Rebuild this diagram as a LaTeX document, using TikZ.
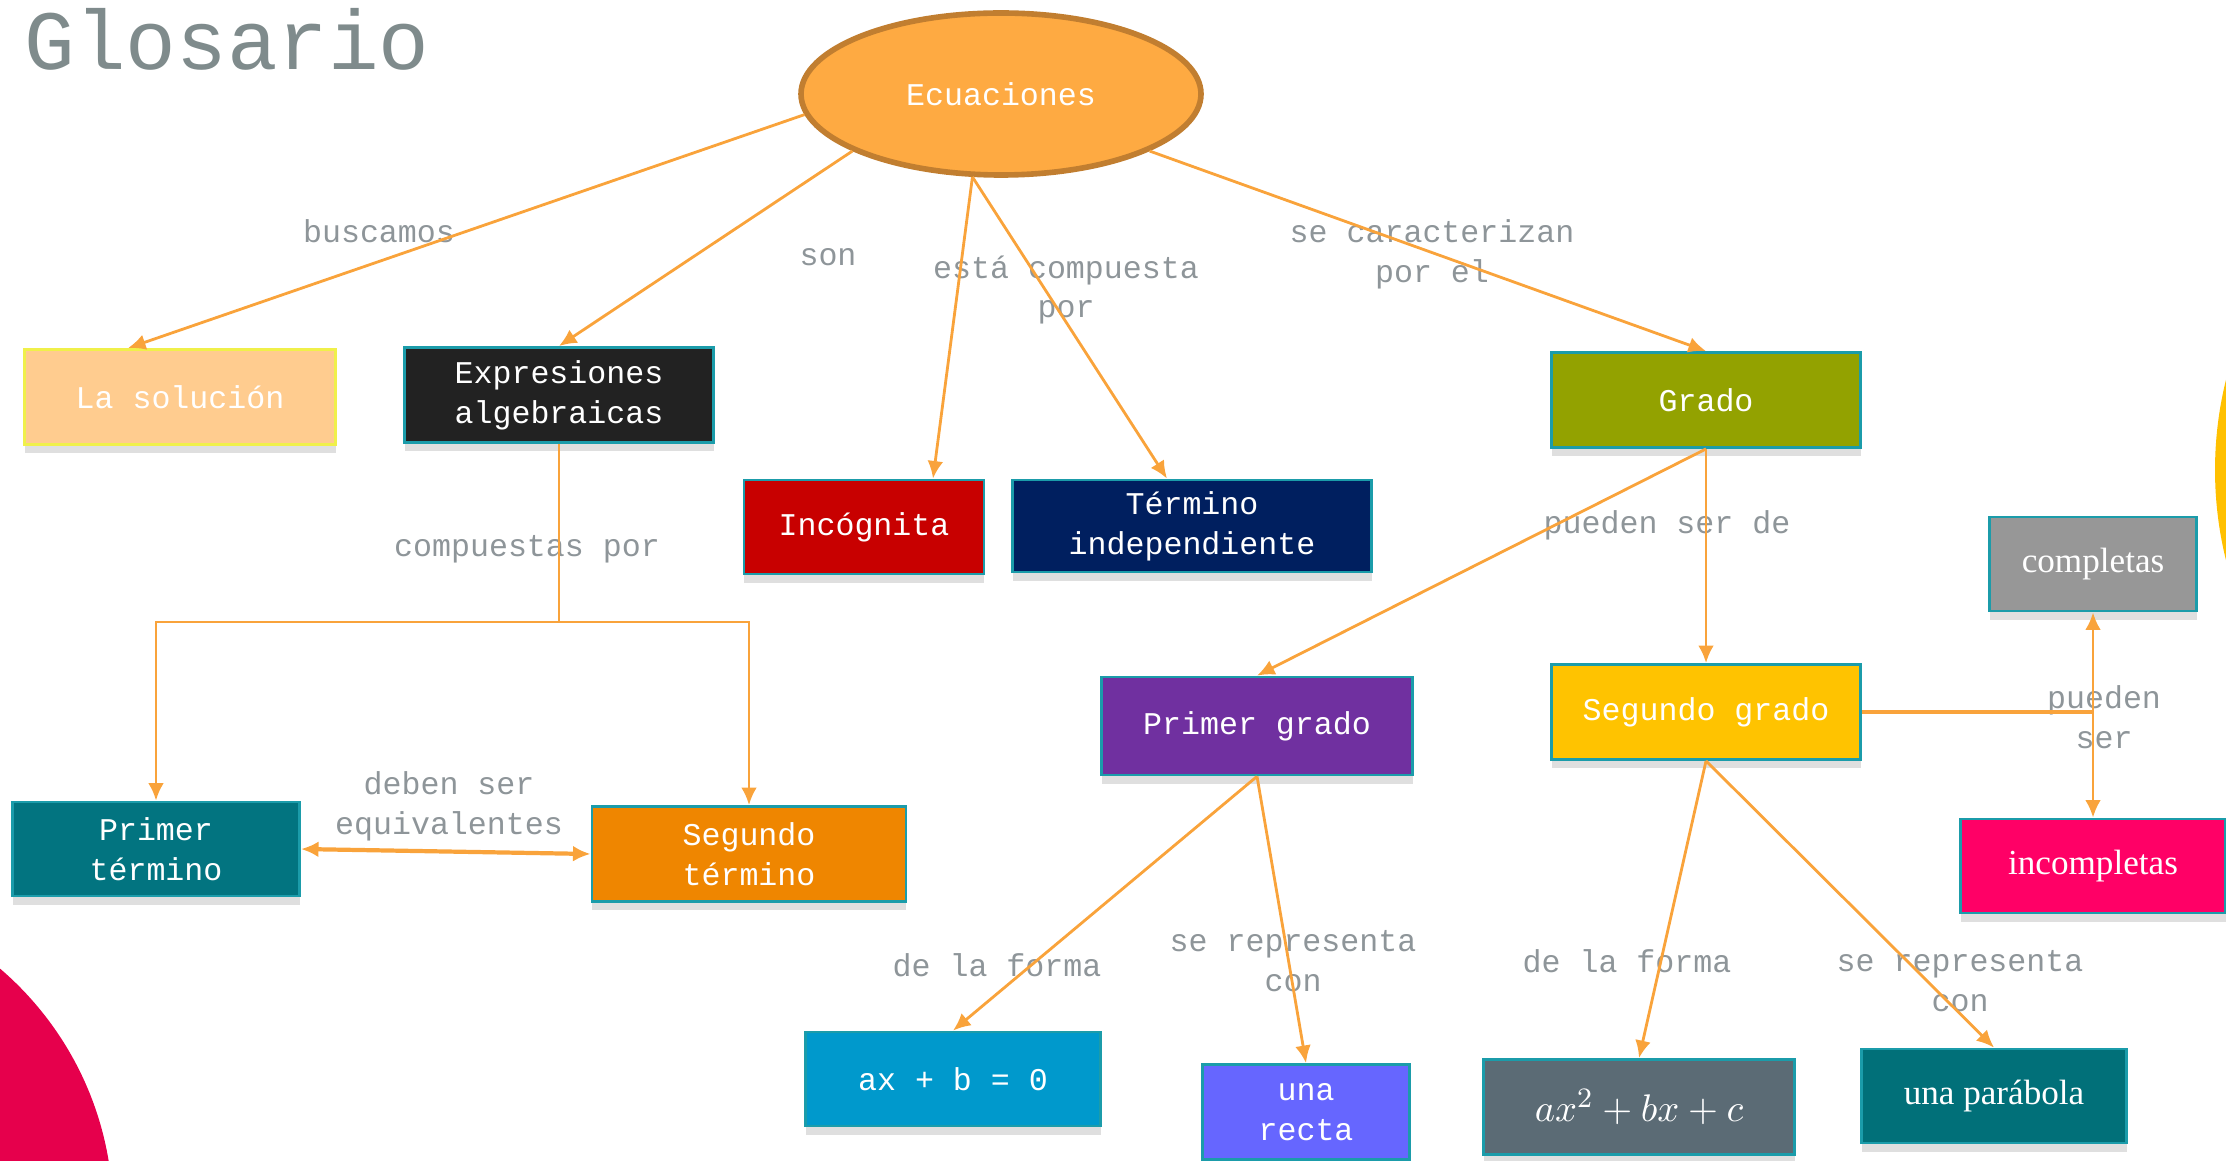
\documentclass[tikz,border=0pt]{standalone}
\usepackage{fontspec}
\setmonofont{Liberation Mono}
\newfontfamily\serifcaja{Liberation Serif}
\usetikzlibrary{shapes.geometric,arrows.meta,shadows}

\definecolor{naranja}{HTML}{F9A33B}
\definecolor{grisetiq}{HTML}{8E9599}
\definecolor{gristitulo}{HTML}{7F8B8C}
\definecolor{bordeteal}{HTML}{1B9CAA}
\definecolor{ecufill}{HTML}{FEAA42}
\definecolor{ecuborde}{HTML}{C17E30}
\definecolor{solfill}{HTML}{FFCC8F}
\definecolor{solborde}{HTML}{F0F04A}
\definecolor{exprfill}{HTML}{222222}
\definecolor{incfill}{HTML}{C80000}
\definecolor{tindfill}{HTML}{001F5F}
\definecolor{gradofill}{HTML}{93A200}
\definecolor{complfill}{HTML}{979797}
\definecolor{pgradofill}{HTML}{7030A0}
\definecolor{sgradofill}{HTML}{FFC300}
\definecolor{incomplfill}{HTML}{FF0066}
\definecolor{ptermfill}{HTML}{027480}
\definecolor{stermfill}{HTML}{EF8600}
\definecolor{linfill}{HTML}{0099CC}
\definecolor{rectafill}{HTML}{6666FF}
\definecolor{cuadfill}{HTML}{5B6B75}
\definecolor{parabfill}{HTML}{017079}
\definecolor{rosa}{HTML}{E6004C}
\definecolor{amarillo}{HTML}{FFC000}

\tikzset{
  caja/.style={rectangle, draw=bordeteal, line width=0.8pt, text=white,
    font=\ttfamily\fontsize{9}{11.3}\selectfont, align=center,
    inner sep=0pt, minimum height=0.95cm,
    drop shadow={shadow xshift=0pt, shadow yshift=-2.5pt, opacity=.25}},
  etiqueta/.style={text=grisetiq, font=\ttfamily\fontsize{9}{11.3}\selectfont,
    align=center, inner sep=0pt},
  flecha/.style={->, draw=naranja, line width=0.8pt},
}

\begin{document}
\begin{tikzpicture}[>={Latex[length=5pt,width=4.5pt]}]
    % Marco
    \useasboundingbox (0,0) rectangle (22.26,-11.61);
    \clip (0,0) rectangle (22.26,-11.61);
    % Circulos de fondo
    \fill[rosa] (-2.10,-12.14) circle (3.23);
    \fill[amarillo] (25.89,-4.70) circle (3.74);
    % Titulo
    \node[anchor=base west, text=gristitulo, inner sep=0pt,
      font=\ttfamily\fontsize{24}{28}\selectfont] (titulo) at (0.24,-0.70) {Glosario};
    % Nodo central
    \node[ellipse, fill=ecufill, draw=ecuborde, line width=1.6pt,
      minimum width=4.0cm, minimum height=1.62cm, text=white,
      font=\ttfamily\fontsize{9}{11.3}\selectfont] (ecu) at (10.01,-0.94) {Ecuaciones};
    % Cajas
    \node[caja, fill=solfill, draw=solborde, minimum width=3.11cm] (sol) at (1.80,-3.97) {La solución};
    \node[caja, fill=exprfill, minimum width=3.09cm] (expr) at (5.59,-3.95) {Expresiones\\algebraicas};
    \node[caja, fill=incfill, minimum width=2.40cm, minimum height=0.94cm] (inc) at (8.64,-5.27) {Incógnita};
    \node[caja, fill=tindfill, minimum width=3.59cm, minimum height=0.92cm] (tind) at (11.92,-5.26) {Término\\independiente};
    \node[caja, fill=gradofill, minimum width=3.09cm] (grado) at (17.06,-4.00) {Grado};
    \node[caja, fill=complfill, minimum width=2.07cm, minimum height=0.94cm,
      font=\serifcaja\fontsize{10}{12}\selectfont] (compl) at (20.93,-5.64) {completas};
    \node[caja, fill=pgradofill, minimum width=3.11cm, minimum height=0.98cm] (pgrado) at (12.57,-7.26) {Primer grado};
    \node[caja, fill=sgradofill, minimum width=3.09cm] (sgrado) at (17.06,-7.12) {Segundo grado};
    \node[caja, fill=incomplfill, minimum width=2.65cm, minimum height=0.94cm,
      font=\serifcaja\fontsize{10}{12}\selectfont] (incompl) at (20.93,-8.66) {incompletas};
    \node[caja, fill=ptermfill, minimum width=2.87cm, minimum height=0.94cm] (pterm) at (1.56,-8.49) {Primer\\término};
    \node[caja, fill=stermfill, minimum width=3.14cm] (sterm) at (7.49,-8.54) {Segundo\\término};
    \node[caja, fill=linfill, minimum width=2.95cm, minimum height=0.94cm] (lin) at (9.53,-10.79) {ax + b = 0};
    \node[caja, fill=rectafill, minimum width=2.07cm] (recta) at (13.06,-11.12) {una\\recta};
    \node[caja, fill=cuadfill, minimum width=3.11cm,
      font=\fontsize{11}{13}\selectfont] (cuad) at (16.39,-11.07) {$ax^2+bx+c$};
    \node[caja, fill=parabfill, minimum width=2.65cm, minimum height=0.94cm,
      font=\serifcaja\fontsize{10}{12}\selectfont] (parab) at (19.94,-10.96) {una parábola};
    % Etiquetas de enlace
    \node[etiqueta] (ebus) at (3.79,-2.31) {buscamos};
    \node[etiqueta] (eson) at (8.28,-2.57) {son};
    \node[etiqueta] (ecomp) at (10.66,-2.90) {está compuesta\\por};
    \node[etiqueta] (ecar) at (14.32,-2.54) {se caracterizan\\por el};
    \node[etiqueta] (ecpor) at (5.27,-5.49) {compuestas por};
    \node[etiqueta] (edeb) at (4.49,-8.06) {deben ser\\equivalentes};
    \node[etiqueta] (epued) at (16.67,-5.25) {pueden ser de};
    \node[etiqueta] (eser) at (21.04,-7.17) {pueden\\ser};
    \node[etiqueta] (eforma1) at (9.97,-9.65) {de la forma};
    \node[etiqueta] (erep1) at (12.93,-9.61) {se representa\\con};
    \node[etiqueta] (eforma2) at (16.27,-9.61) {de la forma};
    \node[etiqueta] (erep2) at (19.60,-9.81) {se representa\\con};
    % Flechas desde Ecuaciones
    \draw[flecha] (ecu.186) -- ([xshift=-0.52cm]sol.north);
    \draw[flecha] (ecu.201) -- (expr.north);
    \draw[flecha] (ecu.251) -- ([xshift=0.69cm]inc.north);
    \draw[flecha] (ecu.251) -- ([xshift=-0.25cm]tind.north);
    \draw[flecha] (ecu.339) -- (grado.north);
    % Expresiones algebraicas
    \coordinate (cexpr) at (5.59,-6.22);
    \draw[flecha] (expr.south) -- (cexpr) -| (pterm.north);
    \draw[flecha] (cexpr) -| (sterm.north);
    \draw[flecha, <->, line width=1.2pt] (pterm.east) -- (sterm.west);
    % Grado
    \draw[flecha] (grado.south) -- (pgrado.north);
    \draw[flecha] (grado.south) -- (sgrado.north);
    \coordinate (csgr) at (20.93,-7.12);
    \draw[naranja, line width=1.2pt] (sgrado.east) -- (csgr);
    \draw[flecha] (csgr) -- (compl.south);
    \draw[flecha] (csgr) -- (incompl.north);
    % Primer y segundo grado
    \draw[flecha] (pgrado.south) -- (lin.north);
    \draw[flecha] (pgrado.south) -- (recta.north);
    \draw[flecha] (sgrado.south) -- (cuad.north);
    \draw[flecha] (sgrado.south) -- (parab.north);
\end{tikzpicture}
\end{document}
